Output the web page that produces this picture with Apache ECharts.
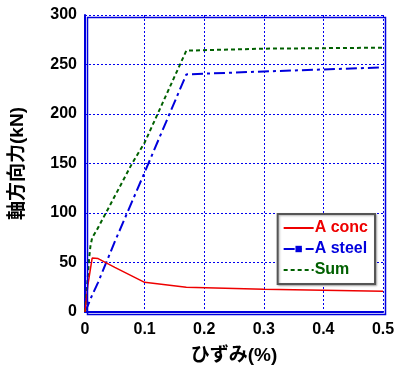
<!DOCTYPE html>
<html><head><meta charset="utf-8">
<script src="https://cdn.jsdelivr.net/npm/echarts@6/dist/echarts.min.js"></script>
<style>html,body{margin:0;padding:0;background:#fff}#c{width:397px;height:372px}</style>
</head><body><div id="c"></div>
<script>
var strain    = [0, 0.005, 0.012, 0.022, 0.05, 0.1, 0.17, 0.3, 0.5];
var conc      = [0, 28, 54.5, 54, 45, 30, 25, 23, 21];
var steel     = [0, 7, 17, 30, 71, 141, 240, 243, 247];
var sumStrain = [0, 0.003, 0.005, 0.007, 0.009, 0.012, 0.02, 0.035, 0.079, 0.1, 0.17, 0.3, 0.5];
var sum       = [0, 22, 38, 55, 66, 75, 83, 100, 150, 171, 264, 266, 267];
var seriesNames = ['A conc', 'A steel', 'Sum'];
var xTitle = 'ひずみ(%)';
var yTitle = '軸方向力(kN)';

function pairs(xs, ys){ return xs.map(function(x,i){ return [x, ys[i]]; }); }
var font = '"Liberation Sans", Arial, "Noto Sans CJK JP", sans-serif';
var chart = echarts.init(document.getElementById('c'));
chart.setOption({
  animation:false,
  grid:{left:85,right:14,top:15,bottom:60,outerBoundsMode:'none',containLabel:false},
  xAxis:{type:'value',min:0,max:0.5,interval:0.1,
    name:xTitle,nameLocation:'middle',nameGap:34,
    nameTextStyle:{fontFamily:font,fontWeight:'bold',fontSize:19,color:'#000'},
    axisLine:{lineStyle:{color:'#0000dd',width:2}},
    axisTick:{show:false},
    axisLabel:{fontFamily:font,fontWeight:'bold',fontSize:16,color:'#000',margin:10,
      formatter:function(v){return v===0?'0':String(+v.toFixed(1));}},
    splitLine:{lineStyle:{color:'#0000ee',type:[2,2],width:1}}
  },
  yAxis:{type:'value',min:0,max:300,interval:50,
    name:yTitle,nameLocation:'middle',nameGap:58,
    nameTextStyle:{fontFamily:font,fontWeight:'bold',fontSize:19,color:'#000'},
    axisLine:{lineStyle:{color:'#0000dd',width:2}},
    axisTick:{show:false},
    axisLabel:{fontFamily:font,fontWeight:'bold',fontSize:16,color:'#000',margin:8},
    splitLine:{lineStyle:{color:'#0000ee',type:[2,2],width:1}}
  },
  graphic:[{type:'rect',left:85,top:15,shape:{width:298,height:297},
    style:{fill:'none',stroke:'#0000dd',lineWidth:1.5},z:10,silent:true}],
  legend:{
    right:22,top:214,orient:'vertical',
    itemWidth:30,itemHeight:8,itemGap:5,
    backgroundColor:'#fff',borderColor:'#555',borderWidth:2,padding:[6,7,6,5],
    shadowColor:'rgba(0,0,0,0.3)',shadowBlur:2,shadowOffsetX:1,shadowOffsetY:1,
    textStyle:{fontFamily:font,fontWeight:'bold',fontSize:16,padding:[0,0,0,-4]},
    data:[
      {name:seriesNames[0],textStyle:{color:'#ee0000'},itemStyle:{opacity:0}},
      {name:seriesNames[1],textStyle:{color:'#0000dd'}},
      {name:seriesNames[2],textStyle:{color:'#006000'},itemStyle:{opacity:0}}
    ]
  },
  series:[
    {name:seriesNames[0],type:'line',data:pairs(strain,conc),symbol:'none',
     color:'#ee0000',lineStyle:{color:'#ee0000',width:1.5},z:3},
    {name:seriesNames[1],type:'line',data:pairs(strain,steel),symbol:'rect',symbolSize:6,showSymbol:false,
     color:'#0000dd',lineStyle:{color:'#0000dd',width:2,type:[11,4,3,4]},z:2},
    {name:seriesNames[2],type:'line',data:pairs(sumStrain,sum),symbol:'none',
     color:'#006000',lineStyle:{color:'#006000',width:2,type:[4,3]},z:2}
  ]
});
</script></body></html>
